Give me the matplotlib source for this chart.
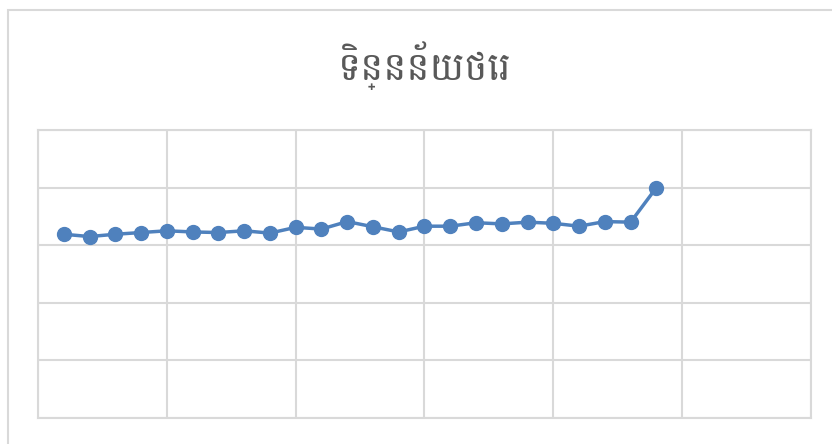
import matplotlib
matplotlib.use("Agg")
import matplotlib.pyplot as plt
from matplotlib.patches import Rectangle

# data
title = "ទិន្នន័យថេរ"
x_vals = list(range(1, 25))
y_vals = [3.19, 3.15, 3.19, 3.22, 3.25, 3.23, 3.22, 3.25, 3.21, 3.31, 3.28, 3.41,
          3.32, 3.23, 3.33, 3.33, 3.39, 3.37, 3.40, 3.38, 3.33, 3.41, 3.40, 4.00]

line_color = "#4F81BD"
grid_color = "#D9D9D9"

fig = plt.figure(figsize=(8.32, 4.44), dpi=100)
fig.patch.set_facecolor("white")

# chart area border (left/top visible, rest runs off the image)
fig.patches.append(Rectangle((8 / 832, -0.1), 1.2, (444 - 10) / 444 + 0.1,
                             transform=fig.transFigure, fill=False,
                             edgecolor=grid_color, linewidth=1.5))

ax = fig.add_axes([38 / 832, 1 - 418 / 444, (811 - 38) / 832, (418 - 130) / 444])
ax.plot(x_vals, y_vals, color=line_color, linewidth=2.5, marker="o",
        markersize=10, markerfacecolor=line_color, markeredgecolor=line_color,
        zorder=3)

ax.set_xlim(0, 30)
ax.set_ylim(0, 5)
ax.set_xticks(range(0, 31, 5))
ax.set_yticks(range(0, 6))
ax.grid(True, color=grid_color, linewidth=1.5)
ax.tick_params(length=0, labelbottom=False, labelleft=False)
for s in ax.spines.values():
    s.set_color(grid_color)
    s.set_linewidth(1.5)

fig.text(425 / 832, 1 - 66 / 444, title, ha="center", va="center",
         fontsize=28, color="#595959", family=["Battambang", "DejaVu Sans"])

fig.savefig("out.png", dpi=100)
